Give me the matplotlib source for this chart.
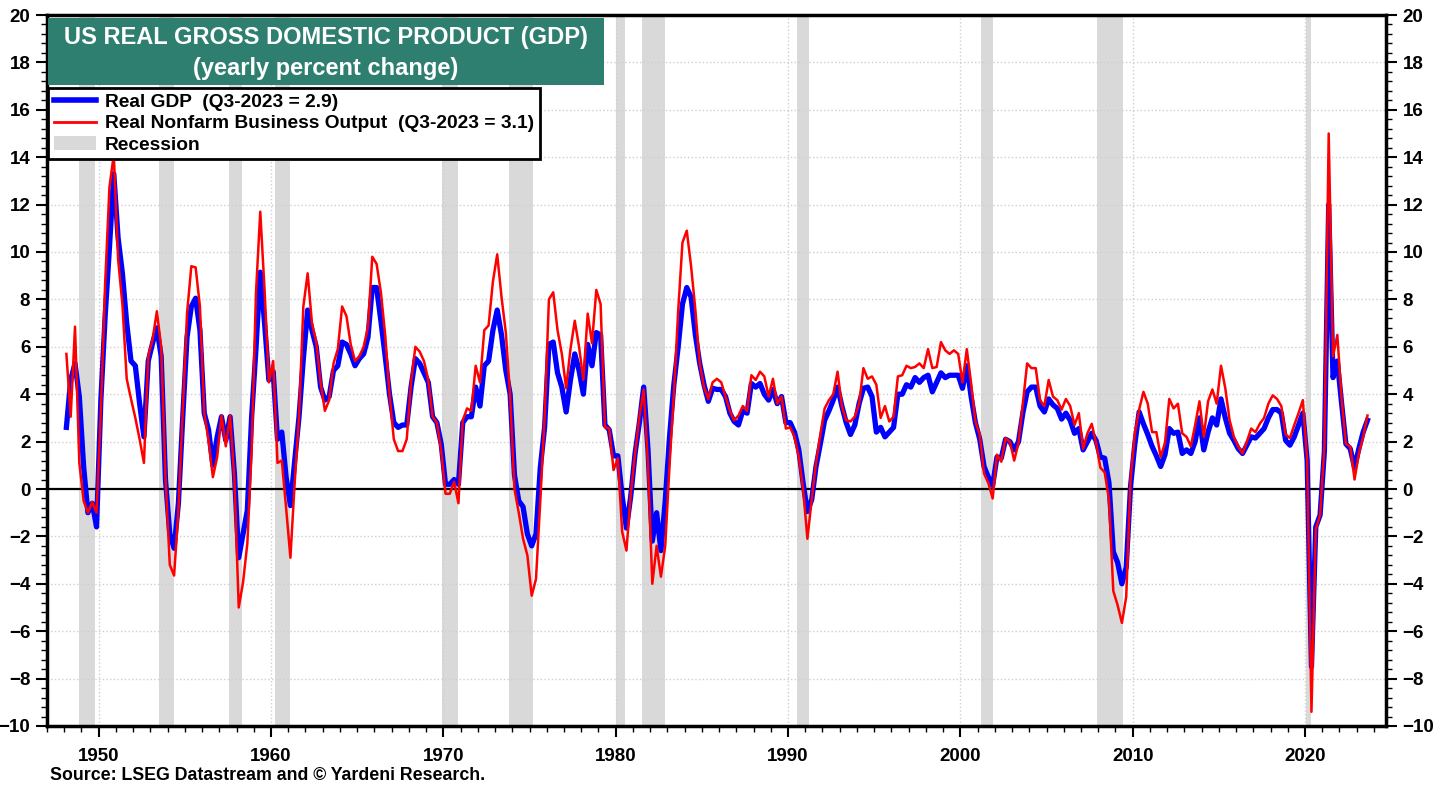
import numpy as np
import pandas as pd
import matplotlib
matplotlib.use("Agg")
import matplotlib.pyplot as plt
from matplotlib.patches import Rectangle, Patch
from matplotlib.lines import Line2D
from matplotlib.ticker import MultipleLocator, AutoMinorLocator

plt.rcParams['font.family'] = ['Liberation Sans', 'DejaVu Sans']
plt.rcParams['font.weight'] = 'bold'

# Real GDP, yearly % change, quarterly 1948Q1 - 2023Q3
gdp = [
    2.6, 4.6, 5.3, 3.9,      # 1948
    0.95, -1.0, -0.6, -1.6,  # 1949
    3.75, 7.3, 10.2, 13.3,   # 1950
    10.6, 9.1, 7.0, 5.4,     # 1951
    5.2, 3.6, 2.2, 5.4,      # 1952
    6.15, 6.8, 5.6, 0.4,     # 1953
    -1.9, -2.5, -0.6, 3.0,   # 1954
    6.4, 7.7, 8.05, 6.7,     # 1955
    3.2, 2.5, 1.0, 2.2,      # 1956
    3.05, 2.05, 3.05, 0.65,  # 1957
    -2.9, -1.9, -0.9, 3.05,  # 1958
    5.9, 9.15, 7.0, 4.6,     # 1959
    4.95, 2.1, 2.4, 0.5,     # 1960
    -0.7, 1.2, 3.05, 5.5,    # 1961
    7.55, 6.7, 6.0, 4.3,     # 1962
    3.75, 3.9, 5.0, 5.2,     # 1963
    6.2, 6.1, 5.7, 5.2,      # 1964
    5.5, 5.7, 6.4, 8.5,      # 1965
    8.5, 7.1, 5.6, 4.0,      # 1966
    2.8, 2.6, 2.7, 2.7,      # 1967
    4.3, 5.5, 5.3, 4.9,      # 1968
    4.5, 3.05, 2.8, 1.9,     # 1969
    0.2, 0.2, 0.4, 0.2,      # 1970
    2.8, 3.05, 3.05, 4.3,    # 1971
    3.5, 5.2, 5.4, 6.7,      # 1972
    7.55, 6.5, 5.0, 4.0,     # 1973
    0.6, -0.5, -0.75, -1.9,  # 1974
    -2.4, -1.9, 0.9, 2.6,    # 1975
    6.1, 6.2, 4.9, 4.3,      # 1976
    3.25, 4.6, 5.7, 5.0,     # 1977
    4.0, 6.1, 5.2, 6.6,      # 1978
    6.5, 2.7, 2.5, 1.4,      # 1979
    1.4, -0.3, -1.65, -0.3,  # 1980
    1.5, 2.8, 4.3, 1.65,     # 1981
    -2.2, -1.0, -2.6, -0.5,  # 1982
    2.2, 4.4, 6.0, 7.8,      # 1983
    8.5, 8.1, 6.5, 5.3,      # 1984
    4.4, 3.7, 4.25, 4.2,     # 1985
    4.2, 3.9, 3.2, 2.85,     # 1986
    2.7, 3.3, 3.2, 4.45,     # 1987
    4.3, 4.45, 4.0, 3.75,    # 1988
    4.2, 3.6, 3.9, 2.8,      # 1989
    2.8, 2.4, 1.65, 0.25,    # 1990
    -0.95, -0.45, 0.95, 1.9, # 1991
    2.9, 3.3, 3.75, 4.3,     # 1992
    3.5, 2.8, 2.3, 2.7,      # 1993
    3.6, 4.25, 4.3, 3.9,     # 1994
    2.4, 2.6, 2.2, 2.4,      # 1995
    2.6, 4.0, 4.0, 4.4,      # 1996
    4.3, 4.7, 4.5, 4.7,      # 1997
    4.8, 4.1, 4.5, 4.9,      # 1998
    4.7, 4.8, 4.8, 4.8,      # 1999
    4.25, 5.2, 3.9, 2.8,     # 2000
    2.1, 0.95, 0.5, 0.15,    # 2001
    1.35, 1.3, 2.1, 2.0,     # 2002
    1.65, 2.0, 3.2, 4.1,     # 2003
    4.3, 4.3, 3.5, 3.25,     # 2004
    3.8, 3.55, 3.4, 2.95,    # 2005
    3.2, 2.9, 2.35, 2.55,    # 2006
    1.65, 2.0, 2.35, 2.05,   # 2007
    1.35, 1.3, 0.25, -2.65,  # 2008
    -3.1, -4.0, -3.3, 0.1,   # 2009
    1.9, 3.25, 2.75, 2.3,    # 2010
    1.8, 1.4, 0.95, 1.45,    # 2011
    2.55, 2.35, 2.4, 1.5,    # 2012
    1.65, 1.5, 2.0, 3.0,     # 2013
    1.65, 2.4, 3.0, 2.7,     # 2014
    3.8, 3.0, 2.35, 2.05,    # 2015
    1.7, 1.5, 1.85, 2.2,     # 2016
    2.15, 2.35, 2.55, 3.0,   # 2017
    3.35, 3.35, 3.2, 2.05,   # 2018
    1.85, 2.2, 2.7, 3.2,     # 2019
    1.2, -7.5, -1.6, -1.1,   # 2020
    1.6, 12.0, 4.7, 5.4,     # 2021
    3.6, 1.9, 1.7, 0.9,      # 2022
    1.7, 2.4, 2.9,           # 2023
]

# Real nonfarm business output, yearly % change, same quarters
nfb = [
    5.7, 3.05, 6.85, 1.1,    # 1948
    -0.5, -1.0, -0.55, -1.0, # 1949
    3.3, 8.7, 12.75, 14.1,   # 1950
    9.7, 7.8, 4.65, 3.8,     # 1951
    3.0, 2.1, 1.1, 5.6,      # 1952
    6.3, 7.5, 6.0, 0.5,      # 1953
    -3.2, -3.65, -0.9, 3.3,  # 1954
    7.4, 9.4, 9.35, 7.7,     # 1955
    3.2, 2.05, 0.5, 1.35,    # 1956
    3.1, 1.8, 3.1, 0.4,      # 1957
    -5.0, -3.95, -2.3, 1.65, # 1958
    8.25, 11.7, 8.4, 4.5,    # 1959
    5.4, 1.1, 1.2, -0.8,     # 1960
    -2.9, 0.3, 3.05, 7.7,    # 1961
    9.1, 7.0, 6.2, 4.5,      # 1962
    3.3, 3.75, 5.3, 5.9,     # 1963
    7.7, 7.3, 6.1, 5.4,      # 1964
    5.6, 6.0, 6.85, 9.8,     # 1965
    9.5, 8.3, 6.5, 4.0,      # 1966
    2.1, 1.6, 1.6, 2.1,      # 1967
    4.5, 6.0, 5.8, 5.4,      # 1968
    4.6, 3.05, 2.8, 1.6,     # 1969
    -0.2, -0.2, 0.3, -0.6,   # 1970
    2.9, 3.4, 3.3, 5.2,      # 1971
    4.5, 6.7, 6.9, 8.75,     # 1972
    9.9, 8.1, 6.6, 3.9,      # 1973
    0.0, -1.0, -2.1, -2.8,   # 1974
    -4.5, -3.8, -0.5, 3.05,  # 1975
    8.0, 8.3, 6.7, 5.7,      # 1976
    4.25, 5.9, 7.1, 6.0,     # 1977
    4.6, 7.4, 6.15, 8.4,     # 1978
    7.8, 2.6, 2.55, 0.8,     # 1979
    1.3, -1.8, -2.6, -0.2,   # 1980
    1.5, 3.05, 4.2, 1.0,     # 1981
    -4.0, -2.4, -3.7, -2.4,  # 1982
    1.0, 4.0, 7.5, 10.4,     # 1983
    10.9, 9.4, 7.55, 5.3,    # 1984
    4.3, 3.8, 4.5, 4.65,     # 1985
    4.5, 3.9, 3.3, 2.9,      # 1986
    3.1, 3.5, 3.3, 4.8,      # 1987
    4.6, 4.95, 4.75, 3.9,    # 1988
    4.65, 3.6, 3.9, 2.55,    # 1989
    2.6, 2.2, 1.35, 0.0,     # 1990
    -2.1, -0.45, 1.1, 2.3,   # 1991
    3.4, 3.75, 4.0, 4.95,    # 1992
    3.5, 2.9, 2.85, 3.05,    # 1993
    3.6, 5.1, 4.65, 4.75,    # 1994
    4.4, 3.0, 3.5, 2.85,     # 1995
    3.05, 4.75, 4.8, 5.2,    # 1996
    5.1, 5.15, 5.3, 5.1,     # 1997
    5.9, 5.1, 5.15, 6.2,     # 1998
    5.85, 5.7, 5.85, 5.7,    # 1999
    4.5, 5.9, 4.45, 2.85,    # 2000
    2.3, 0.65, 0.25, -0.4,   # 2001
    1.45, 1.15, 2.15, 2.0,   # 2002
    1.2, 1.95, 3.6, 5.3,     # 2003
    5.1, 5.1, 3.75, 3.5,     # 2004
    4.6, 3.9, 3.75, 3.35,    # 2005
    3.8, 3.5, 2.7, 3.2,      # 2006
    1.7, 2.35, 2.75, 1.95,   # 2007
    0.9, 0.7, -0.45, -4.3,   # 2008
    -4.9, -5.65, -4.55, 0.4, # 2009
    2.35, 3.35, 4.1, 3.6,    # 2010
    2.4, 2.4, 1.35, 1.95,    # 2011
    3.8, 3.4, 3.6, 2.35,     # 2012
    2.2, 1.8, 2.7, 3.7,      # 2013
    2.2, 3.7, 4.2, 3.6,      # 2014
    5.2, 4.25, 2.9, 2.2,     # 2015
    1.8, 1.5, 2.0, 2.55,     # 2016
    2.4, 2.75, 3.0, 3.6,     # 2017
    3.95, 3.8, 3.5, 2.3,     # 2018
    2.15, 2.7, 3.2, 3.75,    # 2019
    1.2, -9.4, -1.7, -1.1,   # 2020
    1.8, 15.0, 5.6, 6.5,     # 2021
    3.8, 1.9, 1.8, 0.4,      # 2022
    1.5, 2.2, 3.1,           # 2023
]

# NBER recessions (start, end) in decimal years
rec_start = [1948.83, 1953.5, 1957.58, 1960.25, 1969.92, 1973.83, 1980.0, 1981.5, 1990.5, 2001.17, 2007.92, 2020.08]
rec_end = [1949.79, 1954.37, 1958.29, 1961.12, 1970.87, 1975.21, 1980.54, 1982.87, 1991.21, 2001.87, 2009.46, 2020.33]

# quarter mid-points as decimal years
quarters = pd.period_range('1948Q1', '2023Q3', freq='Q')
x = quarters.year + (quarters.quarter - 0.5) / 4.0

fig = plt.figure(figsize=(14.42, 7.90), dpi=100)
ax = fig.add_axes([47 / 1442, 1 - 726 / 790, (1386 - 47) / 1442, (726 - 15) / 790])

for s, e in zip(rec_start, rec_end):
    ax.axvspan(s, e, color='#d9d9d9', lw=0, zorder=0)

ax.axhline(0, color='black', lw=1.6, zorder=2)
ax.plot(x, gdp, color='#0000ff', lw=3.8, zorder=3, solid_joinstyle='round')
ax.plot(x, nfb, color='#ff0000', lw=1.8, zorder=4)

ax.set_xlim(1947.0, 2024.7)
ax.set_ylim(-10, 20)

ax.yaxis.set_major_locator(MultipleLocator(2))
ax.yaxis.set_minor_locator(AutoMinorLocator(5))
ax.xaxis.set_major_locator(MultipleLocator(10))
ax.xaxis.set_minor_locator(MultipleLocator(1))

ax.grid(which='major', color='#cfcfcf', ls=':', lw=1.0, zorder=1)

for sp in ax.spines.values():
    sp.set_linewidth(2.5)
    sp.set_zorder(6)

ax.tick_params(axis='both', which='major', direction='out', length=8, width=1.5,
               labelsize=13.5, pad=4)
ax.tick_params(axis='both', which='minor', direction='out', length=4, width=1.0)
ax.tick_params(axis='y', which='both', left=True, right=True, labelleft=True, labelright=True)
ax.tick_params(axis='x', which='major', pad=8)
for lab in ax.get_xticklabels() + ax.get_yticklabels():
    lab.set_fontweight('bold')

# title box
ax.add_patch(Rectangle((0.001, 0.9015), 0.415, 0.0945, transform=ax.transAxes,
                       facecolor='#2f7f71', edgecolor='none', zorder=7))
ax.text(0.208, 0.969, 'US REAL GROSS DOMESTIC PRODUCT (GDP)', transform=ax.transAxes,
        ha='center', va='center', color='white', fontsize=17, fontweight='bold', zorder=8)
ax.text(0.208, 0.925, '(yearly percent change)', transform=ax.transAxes,
        ha='center', va='center', color='white', fontsize=17, fontweight='bold', zorder=8)

handles = [Line2D([], [], color='#0000ff', lw=4),
           Line2D([], [], color='#ff0000', lw=2),
           Patch(facecolor='#d9d9d9', edgecolor='none')]
labels = ['Real GDP  (Q3-2023 = 2.9)',
          'Real Nonfarm Business Output  (Q3-2023 = 3.1)',
          'Recession']
leg = ax.legend(handles, labels, loc='upper left', bbox_to_anchor=(0.001, 0.8975),
                borderaxespad=0, frameon=True, fancybox=False, framealpha=1,
                edgecolor='black', handlelength=2.2, handletextpad=0.45,
                labelspacing=0.2, borderpad=0.3,
                prop={'weight': 'bold', 'size': 13.8})
leg.get_frame().set_linewidth(2.0)
leg.set_zorder(9)

fig.text(50 / 1442, 1 - 775 / 790, 'Source: LSEG Datastream and \u00a9 Yardeni Research.',
         fontsize=12.8, fontweight='bold', ha='left', va='center')

fig.savefig('out.png', dpi=100)
